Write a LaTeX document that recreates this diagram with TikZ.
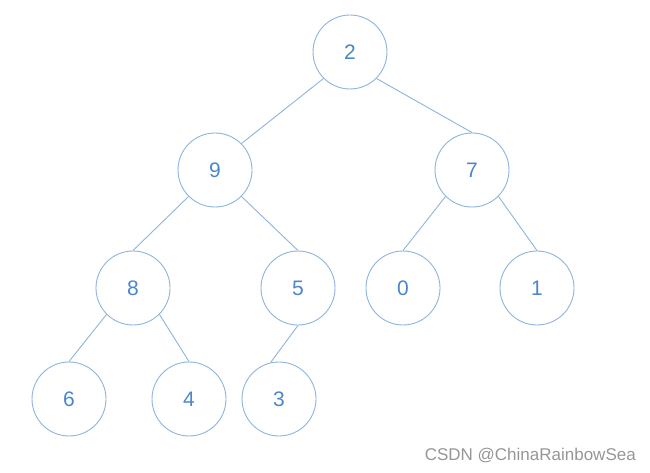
\documentclass[tikz,border=0pt]{standalone}
\usepackage{fontspec}
\setmainfont{Liberation Sans}
\usetikzlibrary{positioning}
\definecolor{nodeline}{RGB}{140,180,222}
\definecolor{nodetext}{RGB}{74,134,204}
\definecolor{marktext}{RGB}{150,150,150}
\begin{document}
\begin{tikzpicture}[x=1pt, y=-1pt,
  heapnode/.style={circle, draw=nodeline, line width=0.9pt, minimum size=74pt,
                   inner sep=0pt, text=nodetext, font=\fontsize{21}{25}\selectfont},
  heapedge/.style={draw=nodeline, line width=0.9pt}]
  % Define dimensions
  \useasboundingbox (0,0) rectangle (650,473);

  % Define points
  \node[heapnode] (n2) at (350,52) {2};
  \node[heapnode] (n9) at (215,170) {9};
  \node[heapnode] (n7) at (472,170) {7};
  \node[heapnode] (n8) at (133,288) {8};
  \node[heapnode] (n5) at (298,288) {5};
  \node[heapnode] (n0) at (403,288) {0};
  \node[heapnode] (n1) at (537,288) {1};
  \node[heapnode] (n6) at (69,399) {6};
  \node[heapnode] (n4) at (189,399) {4};
  \node[heapnode] (n3) at (279,399) {3};

  % Draw edges
  \path[heapedge] (n2.south west) -- (n9.north east);
  \path[heapedge] (n5.south) -- (n3.103);
  \foreach \a/\b/\c in {n2/n7/east, n9/n8/west, n9/n5/east, n7/n0/west,
                        n7/n1/east, n8/n6/west, n8/n4/east}
      \path[heapedge] (\a.south \c) -- (\b.north);

  % Watermark
  \node[anchor=east, text=marktext, font=\fontsize{17}{20}\selectfont, inner sep=0pt] (mark) at (636,456) {CSDN @ChinaRainbowSea};
\end{tikzpicture}
\end{document}
